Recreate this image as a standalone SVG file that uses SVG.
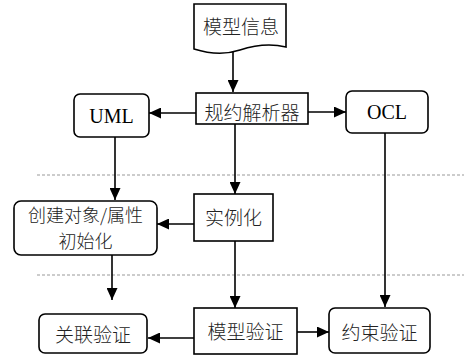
<svg xmlns="http://www.w3.org/2000/svg" width="464" height="356" viewBox="0 0 464 356">
<defs>
<marker id="ah" markerWidth="12" markerHeight="11" refX="12" refY="5.5" orient="auto" markerUnits="userSpaceOnUse">
<path d="M0,0 L12,5.5 L0,11 Z" fill="#000"/>
</marker>
<style>
.box{fill:#fff;stroke:#000;stroke-width:1.6}
.t{font-family:"Liberation Serif","Noto Sans CJK SC",serif;font-size:20px;fill:#000;text-anchor:middle}
.c{font-family:"Noto Sans CJK SC",sans-serif;font-size:19px;font-weight:300;fill:#222;text-anchor:middle}
.ln{stroke:#000;stroke-width:1.6;fill:none}
.ar{stroke:#000;stroke-width:1.6;fill:none;marker-end:url(#ah)}
.dash{stroke:#999;stroke-width:1;stroke-dasharray:3,2}
</style>
</defs>
<rect width="464" height="356" fill="#fff"/>
<g id="separators">
<line class="dash" x1="37" y1="175" x2="464" y2="175"/>
<line class="dash" x1="37" y1="275" x2="464" y2="275"/>
</g>
<g id="connectors">
<line class="ar" x1="233" y1="52" x2="233" y2="92"/>
<line class="ar" x1="196" y1="113" x2="149" y2="113"/>
<line class="ar" x1="308" y1="112" x2="346" y2="112"/>
<line class="ar" x1="115" y1="137" x2="115" y2="200"/>
<line class="ar" x1="235" y1="124" x2="235" y2="194"/>
<line class="ar" x1="194" y1="224" x2="157" y2="224"/>
<line class="ar" x1="112" y1="255" x2="112" y2="300"/>
<line class="ar" x1="235" y1="241" x2="235" y2="308"/>
<line class="ar" x1="194" y1="338" x2="148" y2="338"/>
<line class="ar" x1="297" y1="332" x2="329" y2="332"/>
<line class="ar" x1="385" y1="133" x2="385" y2="307"/>
</g>
<g id="n-info">
<path class="box" d="M194,4 H286 V47 C270,43 255,45 240,50 C225,55 210,54 194,49 Z"/>
<text class="c" x="241" y="34">模型信息</text>
</g>
<g id="n-parser">
<rect class="box" x="196" y="93" width="112" height="31"/>
<text class="c" x="252" y="120">规约解析器</text>
</g>
<g id="n-uml">
<rect class="box" x="74" y="94" width="75" height="43" rx="6"/>
<text class="t" x="111.5" y="123">UML</text>
</g>
<g id="n-ocl">
<rect class="box" x="346" y="91" width="82" height="42" rx="6"/>
<text class="t" x="387" y="119">OCL</text>
</g>
<g id="n-create">
<rect class="box" x="14" y="201" width="143" height="54" rx="7"/>
<text class="c" x="85.5" y="222" style="font-size:18px">创建对象/属性</text>
<text class="c" x="85.5" y="248" style="font-size:18px">初始化</text>
</g>
<g id="n-inst">
<rect class="box" x="194" y="194" width="79" height="47"/>
<text class="c" x="233.5" y="225">实例化</text>
</g>
<g id="n-assoc">
<rect class="box" x="39" y="314" width="108" height="39" rx="6"/>
<text class="c" x="93" y="342">关联验证</text>
</g>
<g id="n-model">
<rect class="box" x="194" y="308" width="103" height="46"/>
<text class="c" x="245.5" y="339">模型验证</text>
</g>
<g id="n-constraint">
<rect class="box" x="329" y="308" width="101" height="45" rx="6"/>
<text class="c" x="379.5" y="340">约束验证</text>
</g>
</svg>
